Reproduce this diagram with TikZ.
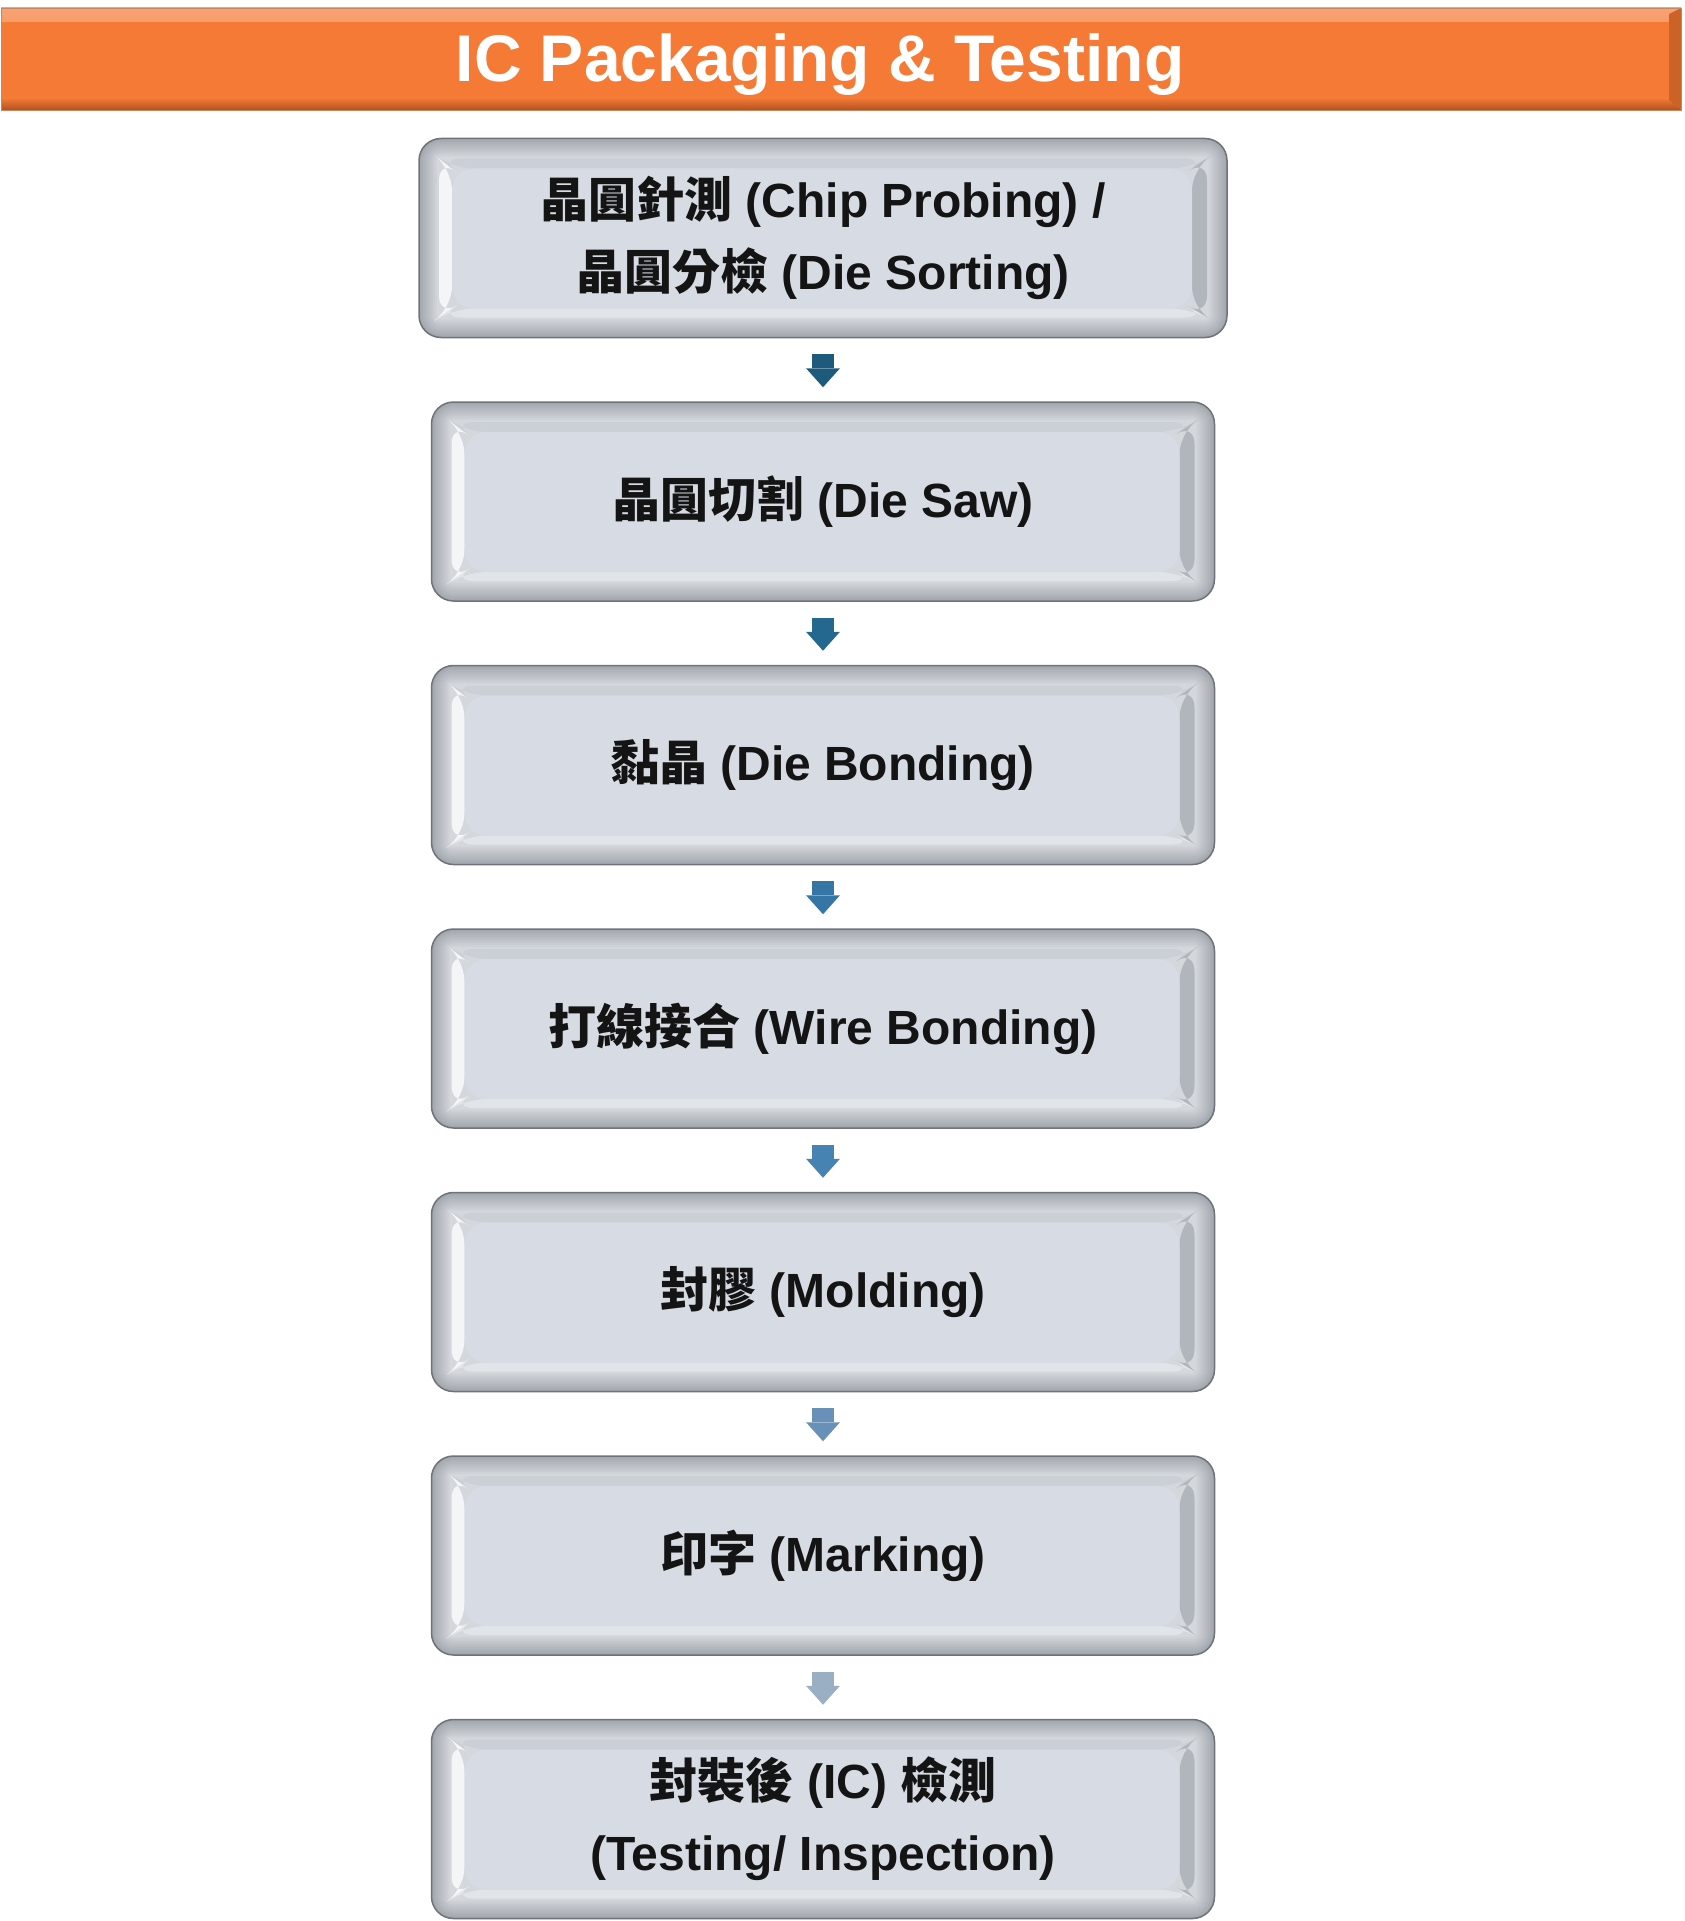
\documentclass[tikz,border=0pt]{standalone}
\usepackage{fontspec}
\setmainfont{Liberation Sans}
\newfontfamily\cjk{Noto Sans CJK TC}
\usetikzlibrary{arrows.meta}

\definecolor{bannerorange}{HTML}{F47A36}
\definecolor{bannerlight}{HTML}{F8A273}
\definecolor{bannerdark}{HTML}{B0521E}
\definecolor{rimedge}{HTML}{6F7379}
\definecolor{rimdark}{HTML}{A3A8AF}
\definecolor{rimlight}{HTML}{D9DCE0}
\definecolor{bevelleft}{HTML}{F3F5F7}
\definecolor{beveltop}{HTML}{CBD0D7}
\definecolor{bevelright}{HTML}{B1B6BD}
\definecolor{bevelbottom}{HTML}{E1E4E9}
\definecolor{face}{HTML}{D7DCE4}
\definecolor{ink}{HTML}{141414}
\definecolor{flowA}{HTML}{1E5A7C}
\definecolor{flowB}{HTML}{246890}
\definecolor{flowC}{HTML}{3676A4}
\definecolor{flowD}{HTML}{4683B3}
\definecolor{flowE}{HTML}{6990B6}
\definecolor{flowF}{HTML}{9BAFC4}

\begin{document}
\begin{tikzpicture}[x=1pt,y=-1pt,
    banner/.style={minimum width=1680pt,minimum height=102pt,inner sep=0pt,
      fill=bannerorange,draw=bannerdark!70,line width=0.8pt,
      path picture={
        \shade[top color=bannerlight,bottom color=bannerorange]
          (path picture bounding box.north west) rectangle
          ([shift={(0,14)}]path picture bounding box.north east);
        \shade[top color=bannerorange,bottom color=bannerdark]
          ([shift={(0,-12)}]path picture bounding box.south west) rectangle
          (path picture bounding box.south east);
        \fill[bannerdark!60!bannerorange] (path picture bounding box.north east) --
          (path picture bounding box.south east) --
          ([shift={(-12,-10)}]path picture bounding box.south east) --
          ([shift={(-12,6)}]path picture bounding box.north east) -- cycle;
      }},
    heading/.style={anchor=base,inner sep=0pt,text=white,
      font=\fontsize{66}{70}\selectfont\bfseries},
    stepbox/.style={rounded corners=22pt,minimum height=199pt,inner sep=0pt,
      align=center,text=ink,font=\fontsize{48}{72}\selectfont\bfseries,
      fill=rimdark,draw=rimedge,line width=1.5pt,
      path picture={
        \foreach[evaluate=\k as \p using int(10*\k),evaluate=\k as \r using 22-2*\k] \k in {0,...,9}
          \fill[rimlight!\p!rimdark,rounded corners=\r]
            ([shift={(2*\k,2*\k)}]path picture bounding box.north west) rectangle
            ([shift={(-2*\k,-2*\k)}]path picture bounding box.south east);
        \coordinate (A) at ([shift={(20,20)}]path picture bounding box.north west);
        \coordinate (B) at ([shift={(-20,20)}]path picture bounding box.north east);
        \coordinate (C) at ([shift={(-20,-20)}]path picture bounding box.south east);
        \coordinate (D) at ([shift={(20,-20)}]path picture bounding box.south west);
        \coordinate (a) at ([shift={(13,10)}]A);
        \coordinate (b) at ([shift={(-15,10)}]B);
        \coordinate (c) at ([shift={(-15,-9)}]C);
        \coordinate (d) at ([shift={(13,-9)}]D);
        \fill[bevelleft] (A) -- (a) -- (d) -- (D) -- cycle;
        \fill[beveltop] (A) -- (B) -- (b) -- (a) -- cycle;
        \fill[bevelright] (B) -- (C) -- (c) -- (b) -- cycle;
        \fill[bevelbottom] (D) -- (C) -- (c) -- (d) -- cycle;
        \fill[face] (a) rectangle (c);
      }},
    flow/.style={line width=22pt,-{Triangle[width=34pt,length=19pt,line width=0pt]},
      shorten <=16pt,shorten >=14pt}]

  \useasboundingbox (0,0) rectangle (1684,1921);

  \node[banner] (bar) at (841,59) {};
  \node[heading] (title) at (820,82) {IC Packaging \& Testing};

  \foreach[count=\i,evaluate={238+(\i-1)*263.5} as \y] \w/\t in {
      808/{{\cjk 晶圓針測} (Chip Probing) /\\{\cjk 晶圓分檢} (Die Sorting)},
      783/{{\cjk 晶圓切割} (Die Saw)},
      783/{{\cjk 黏晶} (Die Bonding)},
      783/{{\cjk 打線接合} (Wire Bonding)},
      783/{{\cjk 封膠} (Molding)},
      783/{{\cjk 印字} (Marking)},
      783/{{\cjk 封裝後} (IC) {\cjk 檢測}\\(Testing/ Inspection)}} {
    \node[stepbox,minimum width=\w pt] (s\i) at (823,\y) {\t};
  }

  \foreach[count=\i,evaluate=\i as \j using int(\i+1)] \c in {flowA,flowB,flowC,flowD,flowE,flowF} {
    \draw[flow,draw=\c] (s\i) -- (s\j);
  }
\end{tikzpicture}
\end{document}
